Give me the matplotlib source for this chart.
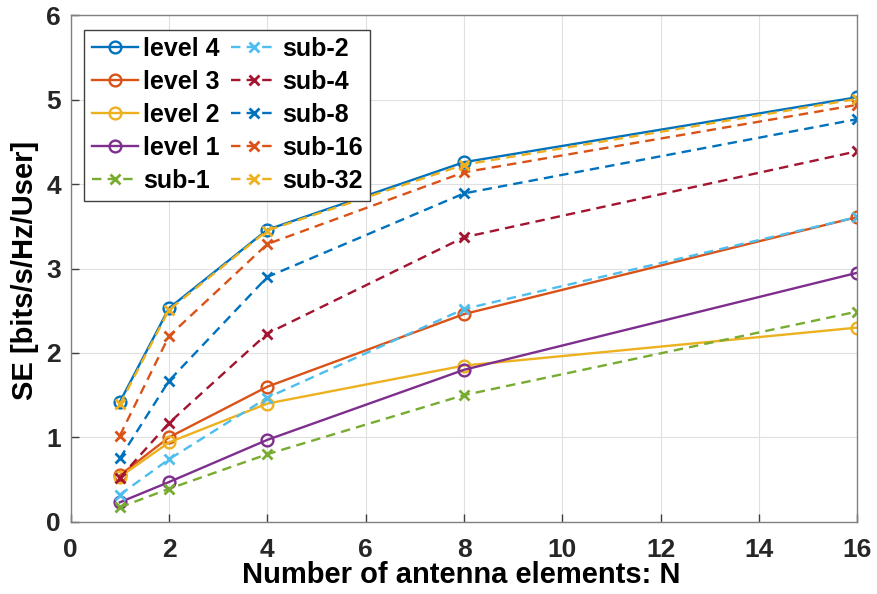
import numpy as np
import matplotlib
matplotlib.use('Agg')
import matplotlib.pyplot as plt

plt.rcParams['font.family'] = ['Liberation Sans', 'DejaVu Sans']
plt.rcParams['font.weight'] = 'bold'

# antenna elements per user
n_ant = [1, 2, 4, 8, 16]

# SE per quantisation level (solid) and sub-array size (dashed)
level4 = [1.42, 2.53, 3.46, 4.26, 5.03]
level3 = [0.55, 1.00, 1.60, 2.46, 3.61]
level2 = [0.53, 0.94, 1.40, 1.85, 2.30]
level1 = [0.23, 0.47, 0.97, 1.80, 2.95]
sub1 = [0.17, 0.39, 0.80, 1.50, 2.49]
sub2 = [0.32, 0.74, 1.47, 2.52, 3.61]
sub4 = [0.52, 1.17, 2.23, 3.37, 4.39]
sub8 = [0.75, 1.67, 2.90, 3.89, 4.77]
sub16 = [1.02, 2.20, 3.29, 4.14, 4.94]
sub32 = [1.39, 2.51, 3.45, 4.23, 5.01]

solid = [('level 4', level4, '#0072BD'),
         ('level 3', level3, '#D95319'),
         ('level 2', level2, '#EDB120'),
         ('level 1', level1, '#7E2F8E')]
dashed = [('sub-1', sub1, '#77AC30'),
          ('sub-2', sub2, '#4DBEEE'),
          ('sub-4', sub4, '#A2142F'),
          ('sub-8', sub8, '#0072BD'),
          ('sub-16', sub16, '#D95319'),
          ('sub-32', sub32, '#EDB120')]

fig = plt.figure(figsize=(8.78, 5.94), dpi=100)
ax = fig.add_axes([0.0805, 0.1217, 0.896, 0.8525])

for lab, vals, col in solid:
    ax.plot(n_ant, vals, '-o', color=col, label=lab, lw=1.7, ms=8.5,
            mew=1.7, mfc='none')
for lab, vals, col in dashed:
    ax.plot(n_ant, vals, '--x', color=col, label=lab, lw=1.7, ms=6.5,
            mew=2.0, dashes=(4, 2.6))

ax.set_xlim(0, 16)
ax.set_ylim(0, 6)
ax.set_xticks(np.arange(0, 17, 2))
ax.set_yticks(np.arange(0, 7, 1))
ax.grid(True, color='#e0e0e0', lw=0.8)
ax.set_axisbelow(True)
for sp in ax.spines.values():
    sp.set_color('#808080')
    sp.set_linewidth(1.0)
ax.tick_params(direction='in', length=6, width=1.0, color='#404040',
               labelsize=19, top=False, right=False)
ax.tick_params(axis='x', pad=12)
ax.tick_params(axis='y', pad=7)
for t in ax.get_xticklabels() + ax.get_yticklabels():
    t.set_fontweight('bold')
    t.set_color('#262626')

ax.set_xlabel('Number of antenna elements: N', fontsize=21, fontweight='bold')
ax.xaxis.label.set_va('baseline')
ax.xaxis.set_label_coords(0.497, -0.121)
ax.set_ylabel('SE [bits/s/Hz/User]', fontsize=21, fontweight='bold')
ax.yaxis.label.set_va('center')
ax.yaxis.set_label_coords(-0.0575, 0.497)

leg = ax.legend(loc='upper left', ncol=2, fontsize=18, handlelength=1.85,
                handletextpad=0.2, columnspacing=0.45, labelspacing=0.36,
                borderpad=0.3, borderaxespad=0, fancybox=False, framealpha=1,
                bbox_to_anchor=(0.017, 0.972))
leg.get_frame().set_edgecolor('#404040')
leg.get_frame().set_linewidth(1.0)
for t in leg.get_texts():
    t.set_fontweight('bold')

fig.savefig('out.png', dpi=100)
